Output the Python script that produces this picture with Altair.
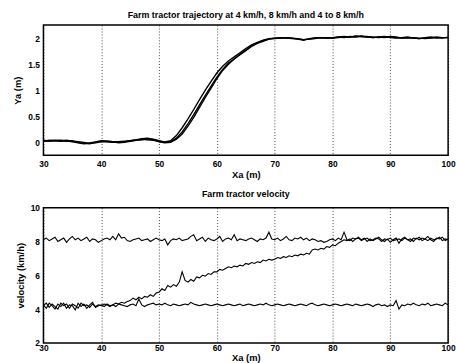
import altair as alt
import pandas as pd

# ---------------- data ----------------
# Trajectory (top panel), x = 30..100 step 1 m
traj_x = list(range(30, 101))
traj_4 = [0.03, 0.03, 0.04, 0.03, 0.02, 0.03, 0.0, -0.02, -0.03, 0.0,
          0.02, 0.01, 0.0, 0.0, 0.01, 0.03, 0.05, 0.06, 0.05, 0.04,
          0.02, 0.0, 0.01, 0.08, 0.2, 0.36, 0.53, 0.72, 0.9, 1.08,
          1.25, 1.4, 1.52, 1.6, 1.68, 1.76, 1.84, 1.9, 1.94, 1.98,
          2.0, 2.0, 2.01, 2.0, 1.99, 1.97, 1.98, 2.0, 2.0, 2.01,
          2.0, 2.01, 2.02, 2.02, 2.03, 2.03, 2.02, 2.02, 2.01, 2.02,
          2.02, 2.01, 2.0, 2.01, 2.0, 1.99, 2.0, 2.01, 2.0, 2.01,
          2.01]
traj_8 = [0.04, 0.02, 0.03, 0.04, 0.03, 0.01, -0.01, -0.03, -0.01, 0.01,
          0.03, 0.02, 0.01, -0.01, 0.0, 0.02, 0.04, 0.07, 0.08, 0.06,
          0.03, 0.01, 0.03, 0.13, 0.28, 0.45, 0.63, 0.82, 1.0, 1.17,
          1.33, 1.46, 1.56, 1.64, 1.72, 1.8, 1.87, 1.92, 1.96, 1.99,
          2.0, 2.01, 2.0, 1.99, 1.98, 1.96, 1.99, 2.01, 2.01, 2.0,
          2.01, 2.02, 2.03, 2.02, 2.04, 2.03, 2.03, 2.01, 2.02, 2.03,
          2.01, 2.0, 2.01, 2.02, 2.0, 1.99, 2.01, 2.02, 2.01, 2.0,
          2.02]
traj_48 = [0.02, 0.04, 0.03, 0.02, 0.04, 0.02, 0.01, 0.0, -0.02, -0.01,
           0.01, 0.02, 0.01, 0.01, 0.02, 0.03, 0.04, 0.05, 0.07, 0.05,
           0.01, -0.01, 0.0, 0.06, 0.16, 0.31, 0.48, 0.67, 0.86, 1.04,
           1.22, 1.38, 1.5, 1.6, 1.69, 1.77, 1.85, 1.91, 1.95, 1.98,
           1.99, 2.0, 2.01, 2.0, 1.98, 1.97, 1.98, 1.99, 2.01, 2.0,
           2.0, 2.02, 2.01, 2.03, 2.02, 2.04, 2.02, 2.01, 2.02, 2.01,
           2.03, 2.02, 2.0, 2.0, 2.01, 2.0, 1.99, 2.0, 2.02, 2.01,
           2.01]

# Velocity (bottom panel), x = 30..100 step 0.5 m
vel_x = [30 + 0.5 * i for i in range(141)]
vel_8 = [8.1, 8.2, 8.05, 8.15, 8.25, 8.0, 8.1, 8.2, 7.95, 8.15,
         8.3, 8.1, 8.2, 8.05, 8.15, 8.25, 8.0, 8.15, 8.1, 7.95,
         8.05, 8.15, 8.2, 8.1, 8.3, 8.1, 8.45, 8.2, 8.25, 8.05,
         8.0, 8.1, 8.15, 8.2, 8.05, 8.1, 8.15, 8.0, 8.1, 8.2,
         8.1, 8.05, 8.15, 7.8, 8.05, 8.15, 8.1, 8.2, 8.05, 8.1,
         8.15, 8.3, 8.4, 8.05, 8.15, 8.25, 8.0, 8.2, 8.1, 8.05,
         8.15, 8.3, 8.0, 8.15, 8.2, 8.1, 8.4, 8.05, 8.15, 8.1,
         8.05, 8.15, 8.2, 8.1, 8.0, 8.15, 8.1, 8.2, 8.55, 8.15,
         8.1, 8.2, 8.05, 8.15, 8.3, 8.1, 8.05, 8.2, 8.15, 8.25,
         8.1, 8.2, 8.05, 8.15, 8.1, 8.0, 8.05, 7.95, 8.0, 8.1,
         8.15, 8.05, 8.2, 8.1, 8.55, 8.1, 8.05, 8.2, 8.15, 8.25,
         8.1, 8.2, 8.0, 8.15, 8.05, 8.15, 8.25, 8.1, 8.0, 8.15,
         7.95, 8.1, 8.2, 7.9, 8.15, 8.25, 8.1, 8.0, 8.2, 8.15,
         8.25, 8.05, 8.15, 8.3, 8.1, 8.0, 8.2, 8.15, 8.25, 8.05,
         8.15]
vel_4 = [4.25, 4.05, 4.35, 4.2, 4.0, 4.3, 4.15, 4.35, 4.05, 4.25,
         4.2, 3.95, 4.35, 4.15, 4.3, 4.05, 4.25, 4.4, 4.1, 4.2,
         4.25, 4.15, 4.3, 4.2, 4.25, 4.15, 4.3, 4.25, 4.2, 4.15,
         4.25, 4.3, 4.2, 4.6, 4.25, 4.15, 4.25, 4.3, 4.35, 4.25,
         4.3, 4.25, 4.35, 4.25, 4.2, 4.3, 4.25, 4.2, 4.25, 4.3,
         4.25, 4.4, 4.3, 4.25, 4.2, 4.25, 4.3, 4.25, 4.2, 4.25,
         4.3, 4.25, 4.2, 4.25, 4.3, 4.25, 4.2, 4.25, 4.3, 4.2,
         4.25, 4.3, 4.25, 4.2, 4.25, 4.3, 4.25, 4.35, 4.25, 4.2,
         4.25, 4.3, 4.25, 4.2, 4.25, 4.3, 4.25, 4.2, 4.25, 4.3,
         4.25, 4.2, 4.3, 4.35, 4.25, 4.2, 4.25, 4.3, 4.25, 4.2,
         4.25, 4.3, 4.25, 4.2, 4.25, 4.3, 4.25, 4.2, 4.3, 4.25,
         4.2, 4.25, 4.3, 4.25, 4.15, 4.25, 4.3, 4.2, 4.25, 4.15,
         4.25, 4.2, 4.5, 4.0, 4.25, 4.2, 4.3, 4.25, 4.35, 4.25,
         4.2, 4.3, 4.25, 4.35, 4.2, 4.25, 4.3, 4.25, 4.2, 4.35,
         4.25]
vel_48 = [4.2, 4.35, 4.1, 4.3, 4.15, 4.0, 4.35, 4.2, 4.3, 4.05,
          4.3, 4.2, 4.05, 4.35, 4.2, 4.25, 4.1, 4.3, 4.15, 4.25,
          4.2, 4.3, 4.25, 4.15, 4.25, 4.35, 4.3, 4.4, 4.35, 4.45,
          4.5, 4.65, 4.55, 4.7, 4.6, 4.75, 4.7, 4.85, 4.75, 4.95,
          5.0, 5.2, 5.1, 5.4, 5.3, 5.45, 5.35, 5.6, 6.2, 5.7,
          5.6, 5.75, 5.65, 5.9, 5.85, 6.0, 5.95, 6.1, 6.05, 6.2,
          6.2, 6.35, 6.3, 6.4, 6.5, 6.45, 6.55, 6.5, 6.6, 6.55,
          6.7, 6.65, 6.75, 6.7, 6.8, 6.75, 6.9, 6.85, 6.95, 6.9,
          6.95, 7.05, 7.0, 7.1, 7.05, 7.15, 7.1, 7.2, 7.15, 7.25,
          7.2, 7.3, 7.25, 7.5, 7.55, 7.5, 7.6, 7.55, 7.7, 7.65,
          7.8, 7.75, 7.9, 8.0, 8.1, 8.05, 8.15, 8.0, 8.15, 8.2,
          8.05, 8.15, 8.2, 8.05, 8.1, 8.2, 8.15, 8.0, 8.15, 8.1,
          8.2, 8.05, 8.1, 8.15, 8.05, 8.2, 8.1, 8.15, 8.0, 8.2,
          8.1, 8.2, 8.15, 8.05, 8.2, 8.1, 8.15, 8.25, 8.05, 8.15,
          8.1]

x_ticks = [30, 40, 50, 60, 70, 80, 90, 100]
ya_ticks = [0, 0.5, 1, 1.5, 2]
v_ticks = [2, 4, 6, 8, 10]

# ---------------- tables ----------------
traj_df = pd.concat([
    pd.DataFrame({"Xa": traj_x, "Ya": traj_4, "run": "4 km/h"}),
    pd.DataFrame({"Xa": traj_x, "Ya": traj_8, "run": "8 km/h"}),
    pd.DataFrame({"Xa": traj_x, "Ya": traj_48, "run": "4 to 8 km/h"}),
])
vel_df = pd.concat([
    pd.DataFrame({"Xa": vel_x, "v": vel_4, "run": "4 km/h"}),
    pd.DataFrame({"Xa": vel_x, "v": vel_8, "run": "8 km/h"}),
    pd.DataFrame({"Xa": vel_x, "v": vel_48, "run": "4 to 8 km/h"}),
])

FONT = "Liberation Sans"

def x_axis(label_pad, title_pad):
    return alt.Axis(values=x_ticks, title="Xa (m)", grid=True, gridDash=[1, 2],
                    gridColor="#000", gridOpacity=0.9, gridWidth=0.8,
                    domain=False, ticks=False, labelPadding=label_pad,
                    titlePadding=title_pad, labelFlush=False)

top = alt.Chart(traj_df, title=alt.Title(
    "Farm tractor trajectory at 4 km/h, 8 km/h and 4 to 8 km/h")).mark_line(
    color="black", strokeWidth=1.4, clip=True
).encode(
    x=alt.X("Xa:Q", scale=alt.Scale(domain=[30, 100], nice=False),
            axis=x_axis(4, 2)),
    y=alt.Y("Ya:Q", scale=alt.Scale(domain=[-0.25, 2.25], nice=False),
            axis=alt.Axis(values=ya_ticks, title="Ya (m)", grid=False, domain=False,
                          ticks=False, labelPadding=4, titlePadding=5,
                          labelExpr="datum.value")),
    detail="run:N",
).properties(width=410, height=132)

bottom = alt.Chart(vel_df, title=alt.Title("Farm tractor velocity")).mark_line(
    color="black", strokeWidth=1.1, clip=True
).encode(
    x=alt.X("Xa:Q", scale=alt.Scale(domain=[30, 100], nice=False),
            axis=x_axis(1, 0)),
    y=alt.Y("v:Q", scale=alt.Scale(domain=[2, 10], nice=False),
            axis=alt.Axis(values=v_ticks, title="velocity (km/h)", grid=False,
                          domain=False, ticks=False, labelPadding=4, titlePadding=5)),
    detail="run:N",
).properties(width=410, height=137)

chart = alt.vconcat(top, bottom, spacing=9).configure(
    font=FONT,
    padding={"left": 12, "top": 8, "right": 0, "bottom": 0},
).configure_view(
    stroke="black", strokeWidth=1.5
).configure_axis(
    labelFont=FONT, titleFont=FONT, labelFontSize=8.5, titleFontSize=9.5,
    labelFontWeight="bold", titleFontWeight="bold",
    labelColor="black", titleColor="black"
).configure_title(
    font=FONT, fontSize=9, fontWeight="bold", color="black", offset=5
)

chart.save("out.html", embed_options={"renderer": "svg", "actions": False})
